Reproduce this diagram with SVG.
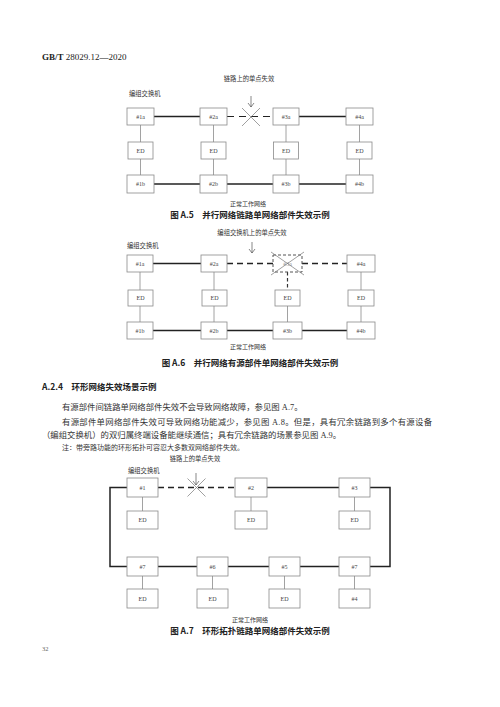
<svg xmlns="http://www.w3.org/2000/svg" width="500" height="707" viewBox="0 0 500 707">
<style>
.bx{fill:#fff;stroke:#8a8a8a;stroke-width:0.8}
.bxd{fill:#fff;stroke:#555;stroke-width:1;stroke-dasharray:3,2}
.lb{font-family:"Liberation Serif","Noto Sans CJK SC",serif;font-size:6px;fill:#444;text-anchor:middle}
.sm{font-family:"Noto Sans CJK SC",sans-serif;font-size:6.3px;fill:#333}
.cap{font-family:"Noto Sans CJK SC",sans-serif;font-size:8.5px;font-weight:bold;fill:#222;text-anchor:middle}
.body{font-family:"Liberation Serif","Noto Sans CJK SC",serif;font-size:8.4px;fill:#333}
.thk{stroke:#222;stroke-width:1.5;fill:none}
.dsh{stroke:#222;stroke-width:1.6;fill:none;stroke-dasharray:6,4}
.thn{stroke:#8a8a8a;stroke-width:0.8;fill:none}
.x{stroke:#777;stroke-width:0.7;fill:none}
.arr{stroke:#555;stroke-width:0.7;fill:none}
</style>

<text x="42" y="60" style="font-family:'Liberation Serif',serif;font-size:9px;fill:#222"><tspan font-weight="bold">GB/T</tspan> 28029.12—2020</text>

<!-- Figure A.5 -->
<g id="a5-connectors">
<line class="thk" x1="154" y1="116.5" x2="200" y2="116.5"/>
<line class="dsh" x1="227" y1="116.5" x2="273" y2="116.5" style="stroke-width:1.2;stroke-dasharray:7,5"/>
<line class="thk" x1="299" y1="116.5" x2="346" y2="116.5"/>
<line class="thk" x1="154" y1="184" x2="200" y2="184"/>
<line class="thk" x1="227" y1="184" x2="273" y2="184"/>
<line class="thk" x1="299" y1="184" x2="346" y2="184"/>
<path class="thn" d="M140.5 125V142M140.5 159V175M213.5 125V142M213.5 159V175M286 125V142M286 159V175M359.5 125V142M359.5 159V175"/>
<path class="x" d="M242 108L260 126M260 108L242 126"/>
<path class="arr" d="M251 96V107M248 103L251 107L254 103"/>
</g>
<text class="sm" x="249" y="81" text-anchor="middle">链路上的单点失效</text>
<text class="sm" x="129" y="96">编组交换机</text>
<g id="a5-1a"><rect class="bx" x="127" y="108" width="27" height="17"/><text class="lb" x="140.5" y="118.5">#1a</text></g>
<g id="a5-2a"><rect class="bx" x="200" y="108" width="27" height="17"/><text class="lb" x="213.5" y="118.5">#2a</text></g>
<g id="a5-3a"><rect class="bx" x="273" y="108" width="26" height="17"/><text class="lb" x="286" y="118.5">#3a</text></g>
<g id="a5-4a"><rect class="bx" x="346" y="108" width="27" height="17"/><text class="lb" x="359.5" y="118.5">#4a</text></g>
<g id="a5-ed1"><rect class="bx" x="128" y="142" width="25" height="17"/><text class="lb" x="140.5" y="152.5">ED</text></g>
<g id="a5-ed2"><rect class="bx" x="201" y="142" width="25" height="17"/><text class="lb" x="213.5" y="152.5">ED</text></g>
<g id="a5-ed3"><rect class="bx" x="273.5" y="142" width="25" height="17"/><text class="lb" x="286" y="152.5">ED</text></g>
<g id="a5-ed4"><rect class="bx" x="347" y="142" width="25" height="17"/><text class="lb" x="359.5" y="152.5">ED</text></g>
<g id="a5-1b"><rect class="bx" x="127" y="175" width="27" height="18"/><text class="lb" x="140.5" y="186">#1b</text></g>
<g id="a5-2b"><rect class="bx" x="200" y="175" width="27" height="18"/><text class="lb" x="213.5" y="186">#2b</text></g>
<g id="a5-3b"><rect class="bx" x="273" y="175" width="26" height="18"/><text class="lb" x="286" y="186">#3b</text></g>
<g id="a5-4b"><rect class="bx" x="346" y="175" width="27" height="18"/><text class="lb" x="359.5" y="186">#4b</text></g>
<text class="sm" x="248" y="206" text-anchor="middle" style="font-size:6px">正常工作网络</text>
<text class="cap" x="250" y="218">图 A.5　并行网络链路单网络部件失效示例</text>

<!-- Figure A.6 -->
<g id="a6-connectors">
<line class="thk" x1="153" y1="263.5" x2="201" y2="263.5"/>
<line class="dsh" x1="227" y1="263.5" x2="273" y2="263.5"/>
<line class="dsh" x1="302" y1="263.5" x2="347" y2="263.5"/>
<line class="thk" x1="153" y1="330.5" x2="201" y2="330.5"/>
<line class="thk" x1="227" y1="330.5" x2="273" y2="330.5"/>
<line class="thk" x1="302" y1="330.5" x2="347" y2="330.5"/>
<path class="thn" d="M140 272V290M140 306V322M214 272V290M214 306V322M287.5 306V322M361 272V290M361 306V322"/>
<line x1="287.5" y1="272" x2="287.5" y2="290" style="stroke:#333;stroke-width:1.2;stroke-dasharray:3.5,2.5"/>
<path class="arr" d="M252 242V253M249 249L252 253L255 249"/>
</g>
<text class="sm" x="252" y="235" text-anchor="middle">编组交换机上的单点失效</text>
<text class="sm" x="127" y="248">编组交换机</text>
<g id="a6-1a"><rect class="bx" x="127" y="255" width="26" height="17"/><text class="lb" x="140" y="265.5">#1a</text></g>
<g id="a6-2a"><rect class="bx" x="201" y="255" width="26" height="17"/><text class="lb" x="214" y="265.5">#2a</text></g>
<g id="a6-3a"><rect class="bxd" x="273" y="255" width="29" height="17"/><text class="lb" x="287.5" y="265.5" style="fill:#999">#3a</text><path class="x" d="M271 252L304 275M304 252L271 275"/></g>
<g id="a6-4a"><rect class="bx" x="347" y="255" width="28" height="17"/><text class="lb" x="361" y="265.5">#4a</text></g>
<g id="a6-ed1"><rect class="bx" x="128" y="290" width="25" height="16"/><text class="lb" x="140.5" y="300">ED</text></g>
<g id="a6-ed2"><rect class="bx" x="202" y="290" width="25" height="16"/><text class="lb" x="214.5" y="300">ED</text></g>
<g id="a6-ed3"><rect class="bx" x="275" y="290" width="25" height="16"/><text class="lb" x="287.5" y="300">ED</text></g>
<g id="a6-ed4"><rect class="bx" x="348" y="290" width="26" height="16"/><text class="lb" x="361" y="300">ED</text></g>
<g id="a6-1b"><rect class="bx" x="127" y="322" width="26" height="17"/><text class="lb" x="140" y="332.5">#1b</text></g>
<g id="a6-2b"><rect class="bx" x="201" y="322" width="26" height="17"/><text class="lb" x="214" y="332.5">#2b</text></g>
<g id="a6-3b"><rect class="bx" x="273" y="322" width="29" height="17"/><text class="lb" x="287.5" y="332.5">#3b</text></g>
<g id="a6-4b"><rect class="bx" x="347" y="322" width="28" height="17"/><text class="lb" x="361" y="332.5">#4b</text></g>
<text class="sm" x="248" y="349" text-anchor="middle" style="font-size:6px">正常工作网络</text>
<text class="cap" x="250" y="366">图 A.6　并行网络有源部件单网络部件失效示例</text>

<!-- Section text -->
<text class="body" x="42" y="390" style="font-family:'Noto Sans CJK SC',sans-serif;font-weight:bold;font-size:8.5px;fill:#222">A.2.4　环形网络失效场景示例</text>
<text class="body" x="62" y="410">有源部件间链路单网络部件失效不会导致网络故障，参见图 A.7。</text>
<text class="body" x="62" y="424.5" textLength="370" lengthAdjust="spacing">有源部件单网络部件失效可导致网络功能减少，参见图 A.8。但是，具有冗余链路到多个有源设备</text>
<text class="body" x="42" y="438">（编组交换机）的双归属终端设备能继续通信；具有冗余链路的场景参见图 A.9。</text>
<text class="body" x="62" y="450" style="font-size:7px">注：带旁路功能的环形拓扑可容忍大多数双网络部件失效。</text>

<!-- Figure A.7 -->
<g id="a7-connectors">
<path class="thk" d="M127 487.5H110V566.5H127"/>
<path class="thk" d="M370 487.5H390V566.5H370"/>
<line class="dsh" x1="158" y1="487.5" x2="235" y2="487.5"/>
<line class="thk" x1="267" y1="487.5" x2="339" y2="487.5"/>
<line class="thk" x1="158" y1="566.5" x2="197" y2="566.5"/>
<line class="thk" x1="228" y1="566.5" x2="269" y2="566.5"/>
<line class="thk" x1="300" y1="566.5" x2="339" y2="566.5"/>
<path class="thn" d="M142.5 497V511M251 497V511M354.5 497V511M142.5 576V589M212.5 576V589M284.5 576V589M354.5 576V589"/>
<path class="x" d="M187.5 478.5L205.5 496.5M205.5 478.5L187.5 496.5"/>
<path class="arr" d="M196 473V485M193 481L196 485L199 481"/>
</g>
<text class="sm" x="195" y="461" text-anchor="middle">链路上的单点失效</text>
<text class="sm" x="128" y="473">编组交换机</text>
<g id="a7-1"><rect class="bx" x="127" y="478" width="31" height="19"/><text class="lb" x="142.5" y="489.5">#1</text></g>
<g id="a7-2"><rect class="bx" x="235" y="478" width="32" height="19"/><text class="lb" x="251" y="489.5">#2</text></g>
<g id="a7-3"><rect class="bx" x="339" y="478" width="31" height="19"/><text class="lb" x="354.5" y="489.5">#3</text></g>
<g id="a7-ed1"><rect class="bx" x="127" y="511" width="31" height="18"/><text class="lb" x="142.5" y="522">ED</text></g>
<g id="a7-ed2"><rect class="bx" x="235" y="511" width="32" height="18"/><text class="lb" x="251" y="522">ED</text></g>
<g id="a7-ed3"><rect class="bx" x="339" y="511" width="31" height="18"/><text class="lb" x="354.5" y="522">ED</text></g>
<g id="a7-7l"><rect class="bx" x="127" y="557" width="31" height="19"/><text class="lb" x="142.5" y="568.5">#7</text></g>
<g id="a7-6"><rect class="bx" x="197" y="557" width="31" height="19"/><text class="lb" x="212.5" y="568.5">#6</text></g>
<g id="a7-5"><rect class="bx" x="269" y="557" width="31" height="19"/><text class="lb" x="284.5" y="568.5">#5</text></g>
<g id="a7-7r"><rect class="bx" x="339" y="557" width="31" height="19"/><text class="lb" x="354.5" y="568.5">#7</text></g>
<g id="a7-ed7"><rect class="bx" x="127" y="589" width="31" height="19"/><text class="lb" x="142.5" y="600.5">ED</text></g>
<g id="a7-ed6"><rect class="bx" x="197" y="589" width="31" height="19"/><text class="lb" x="212.5" y="600.5">ED</text></g>
<g id="a7-ed5"><rect class="bx" x="269" y="589" width="31" height="19"/><text class="lb" x="284.5" y="600.5">ED</text></g>
<g id="a7-4"><rect class="bx" x="339" y="589" width="31" height="19"/><text class="lb" x="354.5" y="600.5">#4</text></g>
<text class="sm" x="250" y="622" text-anchor="middle" style="font-size:6px">正常工作网络</text>
<text class="cap" x="250" y="634">图 A.7　环形拓扑链路单网络部件失效示例</text>

<text x="42" y="651" style="font-family:'Liberation Serif',serif;font-size:6.5px;fill:#666">32</text>
</svg>
